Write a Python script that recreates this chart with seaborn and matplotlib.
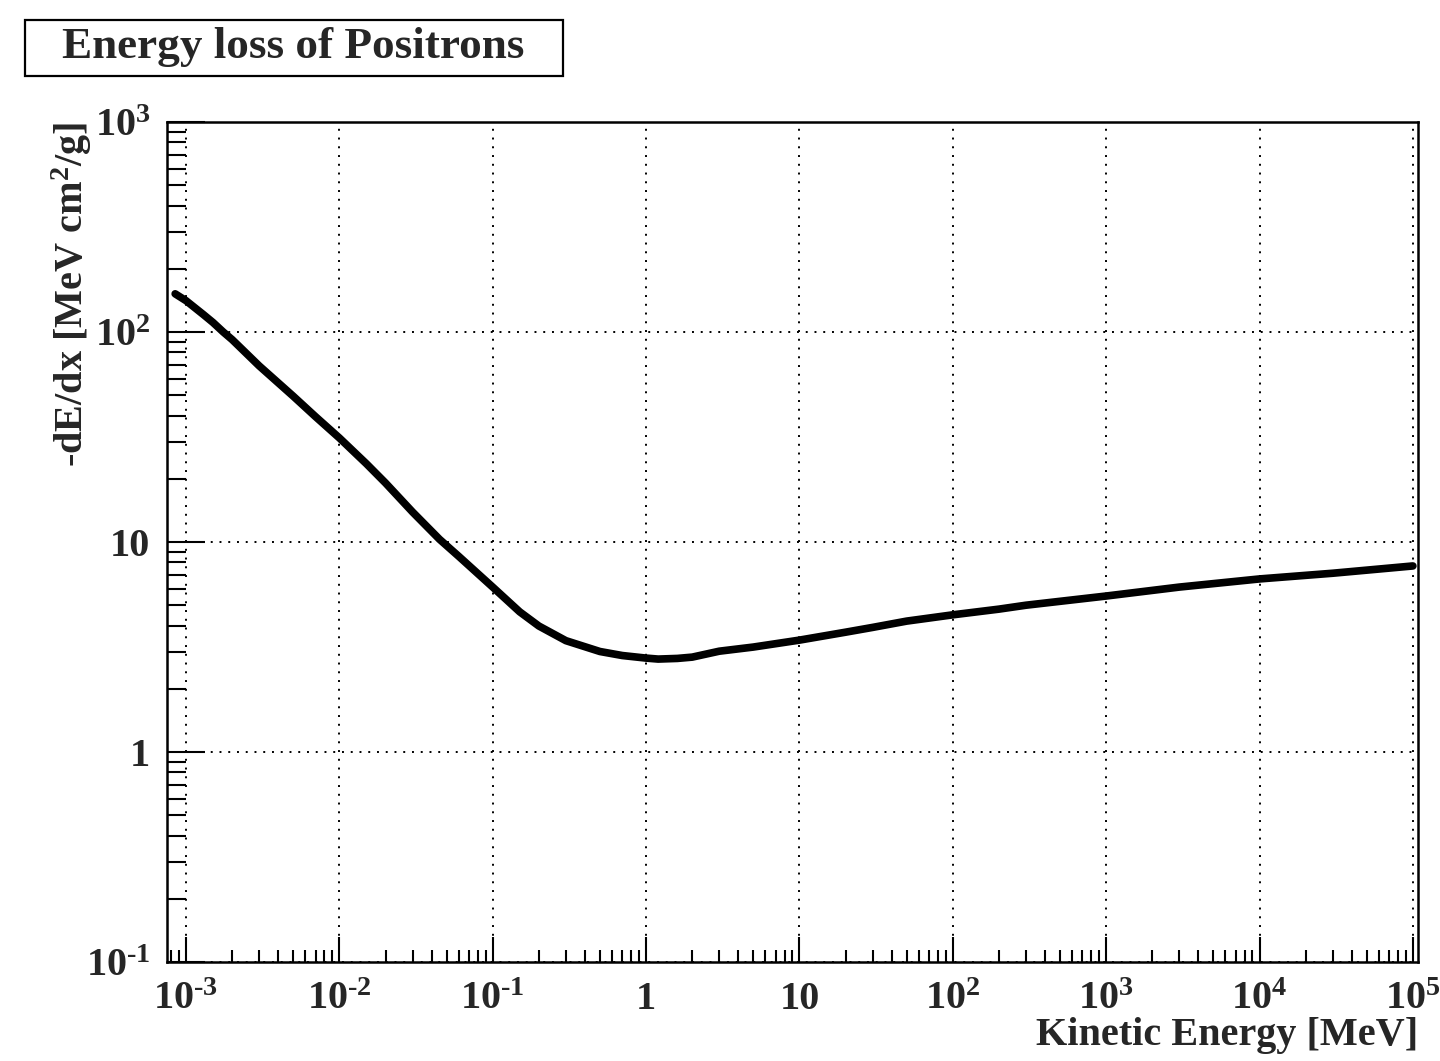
import matplotlib
matplotlib.use("Agg")
import matplotlib.pyplot as plt
import matplotlib.ticker as mticker
from matplotlib.patches import Rectangle
import seaborn as sns
import pandas as pd

# ---- data ----
energy_mev = [8.5e-4, 1e-3, 1.3e-3, 1.5e-3, 1.75e-3, 2e-3, 3e-3, 5e-3, 7e-3,
              1e-2, 1.5e-2, 2e-2, 3e-2, 4.5e-2, 6e-2, 0.1, 0.15, 0.2, 0.3, 0.5, 0.7,
              1.0, 1.2, 1.6, 2, 3, 5, 10, 20, 30, 50,
              100, 200, 300, 1000, 3000, 1e4, 3e4, 1e5]
dedx = [152, 141, 121, 111, 100, 92, 69, 49.5, 39.5,
        31.3, 23.6, 19.1, 13.9, 10.3, 8.55, 6.1, 4.65, 3.98, 3.39, 3.01, 2.88,
        2.80, 2.77, 2.79, 2.83, 3.02, 3.16, 3.41, 3.72, 3.92, 4.2,
        4.5, 4.79, 5.0, 5.53, 6.1, 6.67, 7.1, 7.69]

x_ticks = [1e-3, 1e-2, 1e-1, 1, 10, 1e2, 1e3, 1e4, 1e5]
x_ticklabels = [r"10$^{\text{-}3}$", r"10$^{\text{-}2}$", r"10$^{\text{-}1}$", "1", "10",
                r"10$^{2}$", r"10$^{3}$", r"10$^{4}$", r"10$^{5}$"]
y_ticks = [1e-1, 1, 10, 1e2, 1e3]
y_ticklabels = [r"10$^{\text{-}1}$", "1", "10", r"10$^{2}$", r"10$^{3}$"]

title_text = "Energy loss of Positrons"
x_label = "Kinetic Energy [MeV]"
y_label = r"-dE/dx [MeV cm$^{2}$/g]"

df = pd.DataFrame({"E": energy_mev, "dEdx": dedx})

sns.set_style("white")
plt.rcParams["font.family"] = ["Liberation Serif", "DejaVu Serif"]
plt.rcParams["font.weight"] = "bold"
plt.rcParams["mathtext.fontset"] = "custom"
plt.rcParams["mathtext.rm"] = "Liberation Serif:bold"
plt.rcParams["mathtext.it"] = "Liberation Serif:bold:italic"
plt.rcParams["mathtext.bf"] = "Liberation Serif:bold"
plt.rcParams["mathtext.default"] = "rm"

FS = 29
fig = plt.figure(figsize=(14.4, 10.61), dpi=100)
ax = fig.add_axes([167/1440, 1 - 962/1061, (1418-167)/1440, (962-122)/1061])

sns.lineplot(data=df, x="E", y="dEdx", ax=ax, color="black", linewidth=5.5,
             estimator=None, sort=False)
ax.set_xscale("log")
ax.set_yscale("log")
ax.set_xlim(7.52e-4, 1.08e5)
ax.set_ylim(0.1, 1000)

ax.set_xticks(x_ticks)
ax.set_xticklabels(x_ticklabels)
ax.set_yticks(y_ticks)
ax.set_yticklabels(y_ticklabels)
ax.xaxis.set_minor_locator(mticker.LogLocator(base=10, subs=range(2, 10), numticks=50))
ax.yaxis.set_minor_locator(mticker.LogLocator(base=10, subs=range(2, 10), numticks=50))
ax.xaxis.set_minor_formatter(mticker.NullFormatter())
ax.yaxis.set_minor_formatter(mticker.NullFormatter())

ax.tick_params(axis="x", which="major", direction="in", length=18, width=1.5,
               labelsize=FS, pad=14, bottom=True, top=False, color="black")
ax.tick_params(axis="x", which="minor", direction="in", length=9, width=1.5,
               bottom=True, top=False, color="black")
ax.tick_params(axis="y", which="major", direction="in", length=27, width=1.5,
               labelsize=FS, pad=12, left=True, right=False, color="black")
ax.tick_params(axis="y", which="minor", direction="in", length=13.5, width=1.5,
               left=True, right=False, color="black")

for sp in ax.spines.values():
    sp.set_linewidth(1.8)
    sp.set_color("black")

ax.grid(True, which="major", color="black", linestyle=(0, (1, 3.5)), linewidth=1.4)

ax.set_xlabel(x_label, fontsize=FS, fontweight="bold", loc="right")
ax.xaxis.set_label_coords(1.0, -0.066)
ax.set_ylabel(y_label, fontsize=FS, fontweight="bold", loc="top")
ax.yaxis.set_label_coords(-0.058, 1.0)

# title box
fig.patches.append(Rectangle((25/1440, 1 - 76/1061), (563-25)/1440, (76-20)/1061,
                             transform=fig.transFigure, fill=False,
                             edgecolor="black", linewidth=1.6))
fig.text(293/1440, 1 - 47/1061, title_text, ha="center", va="center",
         fontsize=32.5, fontweight="bold")

fig.savefig("out.png", dpi=100, facecolor="white")
